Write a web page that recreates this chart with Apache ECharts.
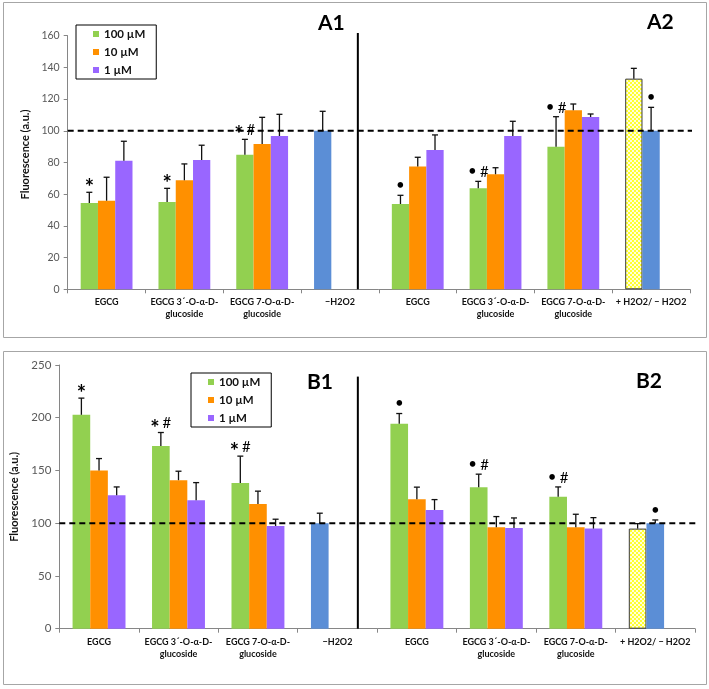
<!DOCTYPE html>
<html>
<head>
<meta charset="utf-8">
<script src="https://cdn.jsdelivr.net/npm/echarts@6/dist/echarts.min.js"></script>
<style>
html,body{margin:0;padding:0;background:#fff;}
#chart{width:709px;height:689px;}
</style>
</head>
<body>
<div id="chart"></div>
<script>
// ---------- DATA ----------
const categories = ['EGCG', 'EGCG 3´-O-α-D-\nglucoside', 'EGCG 7-O-α-D-\nglucoside', '−H2O2',
                    'EGCG', 'EGCG 3´-O-α-D-\nglucoside', 'EGCG 7-O-α-D-\nglucoside', '+ H2O2/ − H2O2'];
const seriesNames = ['100 µM', '10 µM', '1 µM'];

// Panel A
const A_green   = [54.4, 55.1, 84.9, 100, 53.8, 63.7, 90.0, 132.9];
const A_greenE  = [61.2, 63.7, 94.6, 112.3, 59.3, 68.1, 108.9, 139.4];
const A_orange  = [55.9, 68.8, 91.7, null, 77.4, 72.6, 112.9, 100];
const A_orangeE = [70.7, 79.1, 108.5, null, 83.3, 76.7, 116.9, 114.8];
const A_purple  = [81.1, 81.6, 96.7, null, 87.9, 96.7, 108.7, null];
const A_purpleE = [93.4, 90.9, 110.4, null, 97.4, 106.0, 110.6, null];
const A_greenL  = ['*', '*', '* #', '', '•', '• #', '• #', ''];
const A_orangeL = ['', '', '', '', '', '', '', '•'];
const A_purpleL = ['', '', '', '', '', '', '', ''];

// Panel B
const B_green   = [202.8, 173.1, 138.2, 100, 194.2, 134.2, 125.2, 94.9];
const B_greenE  = [218.6, 186.0, 163.6, 109.5, 204.0, 146.5, 134.4, 99.6];
const B_orange  = [149.9, 140.8, 118.3, null, 122.8, 96.2, 96.2, 100];
const B_orangeE = [161.3, 149.3, 130.4, null, 134.2, 106.3, 108.5, 103.1];
const B_purple  = [126.6, 121.8, 97.4, null, 112.6, 95.5, 94.9, null];
const B_purpleE = [134.4, 138.5, 103.8, null, 122.4, 105.0, 105.3, null];
const B_greenL  = ['*', '* #', '* #', '', '•', '• #', '• #', ''];
const B_orangeL = ['', '', '', '', '', '', '', '•'];
const B_purpleL = ['', '', '', '', '', '', '', ''];

const refValue = 100;
const A_yMax = 160, A_yStep = 20;
const B_yMax = 250, B_yStep = 50;
// separator position (in category units) and its top value
const A_sep = [3.73, 161.7];
const B_sep = [3.757, 239];
// ---------- STYLE ----------
const FONT = 'Lato, "Open Sans", sans-serif';
const C_GREEN = '#92d050', C_ORANGE = '#ff9000', C_PURPLE = '#9966ff', C_BLUE = '#5b8ed6';

const pc = document.createElement('canvas');
pc.width = 4; pc.height = 4;
const pctx = pc.getContext('2d');
pctx.fillStyle = '#ffffd8'; pctx.fillRect(0, 0, 4, 4);
pctx.fillStyle = '#ffff30'; pctx.fillRect(0, 0, 2, 2); pctx.fillRect(2, 2, 2, 2);
const yellowPattern = { image: pc, repeat: 'repeat' };

const overrides = {
  '0-3': { color: C_BLUE },
  '0-7': { color: yellowPattern, borderColor: '#3a3a3a', borderWidth: 1 },
  '1-7': { color: C_BLUE }
};

const BAR_FRAC = 0.222;

function barData(arr, slot) {
  return arr.map((v, i) => {
    const o = overrides[slot + '-' + i];
    if (v === null) return '-';
    return o ? { value: v, itemStyle: o } : v;
  });
}

function errData(vals, tops, labels) {
  const items = [];
  for (let s = 0; s < 3; s++) {
    for (let i = 0; i < vals[s].length; i++) {
      if (vals[s][i] === null) continue;
      items.push({ value: [i, s, vals[s][i], tops[s][i]], lab: labels[s][i] });
    }
  }
  return items;
}

const glyphStyle = {
  '*': { font: 'bold 22px ' + FONT, dy: 6 },
  '#': { font: '15px ' + FONT, dy: 1 },
  '•': { font: '15px ' + FONT, dy: 0 }
};

function makeErrSeries(items, xi, yi) {
  return {
    type: 'custom', xAxisIndex: xi, yAxisIndex: yi, z: 5, silent: true,
    data: items.map(d => d.value),
    renderItem: function (params, api) {
      const cat = api.value(0), slot = api.value(1), v = api.value(2), top = api.value(3);
      const band = api.size([1, 0])[0];
      const off = (slot - 1) * band * BAR_FRAC;
      const p0 = api.coord([cat, v]);
      const p1 = api.coord([cat, top]);
      const x = p0[0] + off;
      const children = [
        { type: 'line', shape: { x1: x, y1: p0[1], x2: x, y2: p1[1] }, style: { stroke: '#111', lineWidth: 1.3 } },
        { type: 'line', shape: { x1: x - 3, y1: p1[1], x2: x + 3, y2: p1[1] }, style: { stroke: '#111', lineWidth: 1.3 } }
      ];
      const lab = items[params.dataIndex].lab;
      if (lab) {
        const toks = lab.split(' ');
        const step = 12;
        const start = x - (toks.length - 1) * step / 2;
        toks.forEach((t, k) => {
          const g = glyphStyle[t] || { font: '15px ' + FONT, dy: 0 };
          children.push({ type: 'text', x: start + k * step, y: p1[1] - 10 + g.dy,
            style: { text: t, fill: '#000', font: g.font, align: 'center', verticalAlign: 'middle' } });
        });
      }
      return { type: 'group', children: children };
    }
  };
}

function barSeries(name, arr, slot, color, xi, yi) {
  return {
    type: 'bar', name: name, xAxisIndex: xi, yAxisIndex: yi,
    data: barData(arr, slot), barWidth: (BAR_FRAC * 100) + '%', barGap: '0%',
    itemStyle: { color: color }, silent: true
  };
}

function lineSeries(data, xi, yi, style) {
  return { type: 'line', xAxisIndex: xi, yAxisIndex: yi, data: data, symbol: 'none',
    clip: false, silent: true, z: 6, lineStyle: style };
}

const errA = errData([A_green, A_orange, A_purple], [A_greenE, A_orangeE, A_purpleE], [A_greenL, A_orangeL, A_purpleL]);
const errB = errData([B_green, B_orange, B_purple], [B_greenE, B_orangeE, B_purpleE], [B_greenL, B_orangeL, B_purpleL]);

const catAxis = (gi) => ({
  type: 'category', gridIndex: gi, data: categories,
  axisLine: { lineStyle: { color: '#868686', width: 1 } },
  axisTick: { show: true, length: 4, lineStyle: { color: '#868686' } },
  axisLabel: { interval: 0, color: '#111', fontFamily: FONT, fontSize: 9, fontWeight: 'bold', lineHeight: 12, margin: 7 }
});
const valAxisX = (gi) => ({ type: 'value', gridIndex: gi, min: 0, max: 8, show: false });
const yAx = (gi, max, step, fs, gap, pad) => ({
  type: 'value', gridIndex: gi, min: 0, max: max, interval: step,
  name: 'Fluorescence (a.u.)', nameLocation: 'middle', nameGap: gap, nameRotate: 90,
  nameTextStyle: { fontFamily: FONT, fontSize: 11, fontWeight: 'bold', color: '#111', padding: pad },
  splitLine: { show: false },
  axisLine: { show: true, lineStyle: { color: '#868686' } },
  axisTick: { show: true, length: 4, lineStyle: { color: '#868686' } },
  axisLabel: { color: '#595959', fontFamily: FONT, fontSize: fs, margin: 8 }
});

const legendCommon = {
  orient: 'vertical', data: seriesNames, icon: 'rect', itemWidth: 6, itemHeight: 6, itemGap: 0,
  borderColor: '#000', borderWidth: 1, backgroundColor: '#fff',
  textStyle: { fontFamily: FONT, fontSize: 11.5, fontWeight: 'bold', color: '#111', lineHeight: 18 },
  padding: [0, 11, 0, 17], itemStyle: { borderWidth: 0 }, selectedMode: false
};

const titleStyle = { fontFamily: FONT, fontSize: 21, fontWeight: 'bold', color: '#000' };

const option = {
  animation: false,
  backgroundColor: '#fff',
  graphic: [
    { type: 'rect', shape: { x: 3.5, y: 2.5, width: 703, height: 335 }, style: { fill: 'none', stroke: '#a6a6a6', lineWidth: 1 }, silent: true },
    { type: 'rect', shape: { x: 3.5, y: 351.5, width: 703, height: 333 }, style: { fill: 'none', stroke: '#a6a6a6', lineWidth: 1 }, silent: true }
  ],
  title: [
    { text: 'A1', left: 318, top: 13, padding: 0, textStyle: titleStyle },
    { text: 'A2', left: 647, top: 12, padding: 0, textStyle: titleStyle },
    { text: 'B1', left: 307, top: 372, padding: 0, textStyle: titleStyle },
    { text: 'B2', left: 636, top: 371, padding: 0, textStyle: titleStyle }
  ],
  legend: [
    Object.assign({ left: 76, top: 25 }, legendCommon),
    Object.assign({ left: 191, top: 373 }, legendCommon)
  ],
  grid: [
    { left: 67.7, right: 19, top: 35.7, bottom: 399.7 },
    { left: 59.3, right: 14, top: 365, bottom: 60.3 }
  ],
  xAxis: [catAxis(0), catAxis(1), valAxisX(0), valAxisX(1)],
  yAxis: [yAx(0, A_yMax, A_yStep, 10.5, 33, [0, 0, 0, 16]), yAx(1, B_yMax, B_yStep, 11.5, 37, 0)],
  series: [
    barSeries(seriesNames[0], A_green, 0, C_GREEN, 0, 0),
    barSeries(seriesNames[1], A_orange, 1, C_ORANGE, 0, 0),
    barSeries(seriesNames[2], A_purple, 2, C_PURPLE, 0, 0),
    barSeries(seriesNames[0], B_green, 0, C_GREEN, 1, 1),
    barSeries(seriesNames[1], B_orange, 1, C_ORANGE, 1, 1),
    barSeries(seriesNames[2], B_purple, 2, C_PURPLE, 1, 1),
    makeErrSeries(errA, 0, 0),
    makeErrSeries(errB, 1, 1),
    lineSeries([[0, refValue], [8.1, refValue]], 2, 0, { color: '#000', width: 2, type: [6, 4] }),
    lineSeries([[0, refValue], [8.03, refValue]], 3, 1, { color: '#000', width: 2, type: [6, 4] }),
    lineSeries([[A_sep[0], 0], [A_sep[0], A_sep[1]]], 2, 0, { color: '#000', width: 2 }),
    lineSeries([[B_sep[0], 0], [B_sep[0], B_sep[1]]], 3, 1, { color: '#000', width: 2 })
  ]
};

const chart = echarts.init(document.getElementById('chart'), null, { renderer: 'canvas' });
chart.setOption(option);
</script>
</body>
</html>
